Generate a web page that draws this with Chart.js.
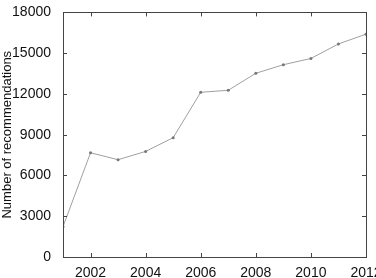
<!DOCTYPE html>
<html>
<head>
<meta charset="utf-8">
<script src="https://cdn.jsdelivr.net/npm/chart.js@4"></script>
<style>
  html, body { margin: 0; padding: 0; background: #fff; overflow: hidden; }
  #wrap { width: 390px; height: 278px; }
</style>
</head>
<body>
<div id="wrap"><canvas id="recChart" width="390" height="278"></canvas></div>
<script>
// data
const years = [2001, 2002, 2003, 2004, 2005, 2006, 2007, 2008, 2009, 2010, 2011, 2012];
const recommendations = [2230, 7670, 7160, 7770, 8780, 12120, 12270, 13520, 14150, 14610, 15680, 16400];
const xTicks = [2002, 2004, 2006, 2008, 2010, 2012];
const yTicks = [0, 3000, 6000, 9000, 12000, 15000, 18000];

const tickFont = { family: 'Liberation Sans, Arial, sans-serif', size: 14 };
const titleFont = { family: 'Liberation Sans, Arial, sans-serif', size: 13 };

// matlab style box with inward ticks
const boxTicks = {
  id: 'boxTicks',
  afterDraw(chart) {
    const { ctx, chartArea: a, scales } = chart;
    const len = 4;
    ctx.save();
    ctx.strokeStyle = '#444';
    ctx.lineWidth = 1;
    ctx.strokeRect(Math.round(a.left) + 0.5, Math.round(a.top) + 0.5,
      Math.round(a.right - a.left), Math.round(a.bottom - a.top));
    ctx.beginPath();
    xTicks.forEach(v => {
      const x = Math.round(scales.x.getPixelForValue(v)) + 0.5;
      ctx.moveTo(x, a.bottom); ctx.lineTo(x, a.bottom - len);
      ctx.moveTo(x, a.top); ctx.lineTo(x, a.top + len);
    });
    yTicks.forEach(v => {
      const y = Math.round(scales.y.getPixelForValue(v)) + 0.5;
      ctx.moveTo(a.left, y); ctx.lineTo(a.left + len, y);
      ctx.moveTo(a.right, y); ctx.lineTo(a.right - len, y);
    });
    ctx.stroke();
    ctx.restore();
  }
};

new Chart(document.getElementById('recChart'), {
  type: 'line',
  data: {
    datasets: [{
      data: years.map((y, i) => ({ x: y, y: recommendations[i] })),
      borderColor: '#a0a0a0',
      borderWidth: 1,
      pointRadius: 1.5,
      pointBackgroundColor: '#777',
      pointBorderColor: '#777',
      pointBorderWidth: 0,
      tension: 0
    }]
  },
  options: {
    responsive: false,
    animation: false,
    layout: { padding: { top: 9, right: 24, left: 0, bottom: 0 } },
    plugins: { legend: { display: false }, tooltip: { enabled: false } },
    scales: {
      x: {
        type: 'linear',
        min: 2001,
        max: 2012,
        grid: { display: false },
        border: { display: false },
        afterBuildTicks: s => { s.ticks = xTicks.map(v => ({ value: v })); },
        afterFit: s => { s.height = 21; },
        ticks: { color: '#111', font: tickFont, padding: 0, maxRotation: 0, callback: v => String(v) }
      },
      y: {
        min: 0,
        max: 18000,
        grid: { display: false },
        border: { display: false },
        afterBuildTicks: s => { s.ticks = yTicks.map(v => ({ value: v })); },
        afterFit: s => { s.width = 63; },
        ticks: { color: '#111', font: tickFont, padding: 4, callback: v => String(v) },
        title: {
          display: true,
          text: 'Number of recommendations',
          color: '#111',
          font: titleFont,
          padding: { top: 0, bottom: 0 }
        }
      }
    }
  },
  plugins: [boxTicks]
});
</script>
</body>
</html>
